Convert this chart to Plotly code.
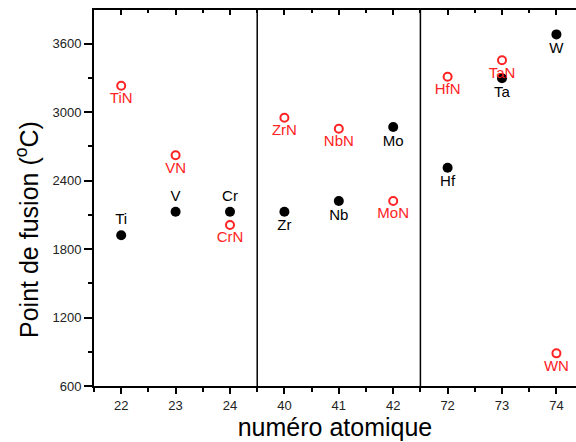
import plotly.graph_objects as go

categories = ["22", "23", "24", "40", "41", "42", "72", "73", "74"]
metals = ["Ti", "V", "Cr", "Zr", "Nb", "Mo", "Hf", "Ta", "W"]
metal_mp = [1921, 2128, 2128, 2128, 2221, 2870, 2513, 3297, 3682]
metal_pos = ["top center", "top center", "top center", "bottom center", "bottom center",
             "bottom center", "bottom center", "bottom center", "bottom center"]
nitrides = ["TiN", "VN", "CrN", "ZrN", "NbN", "MoN", "HfN", "TaN", "WN"]
nitride_mp = [3232, 2622, 2011, 2952, 2855, 2221, 3311, 3455, 886]
nitride_pos = ["bottom center"] * 9
y_ticks = [600, 1200, 1800, 2400, 3000, 3600]
dividers = [2.5, 5.5]

idx = list(range(len(categories)))
RED = "rgb(255,35,35)"
FONT = "Liberation Sans, Arial, sans-serif"

fig = go.Figure()
fig.add_trace(go.Scatter(
    x=idx, y=metal_mp, mode="markers+text", text=metals, textposition=metal_pos,
    marker=dict(color="black", size=10, symbol="circle"),
    textfont=dict(color="black", size=15, family=FONT), showlegend=False, cliponaxis=False))
fig.add_trace(go.Scatter(
    x=idx, y=nitride_mp, mode="markers+text", text=nitrides, textposition=nitride_pos,
    marker=dict(color=RED, size=8, symbol="circle-open", line=dict(width=2, color=RED)),
    textfont=dict(color=RED, size=15, family=FONT), showlegend=False, cliponaxis=False))
# invisible trace to anchor the top mirror axis
fig.add_trace(go.Scatter(x=idx, y=metal_mp, xaxis="x2", mode="markers",
                         marker=dict(opacity=0), showlegend=False, hoverinfo="skip"))

for d in dividers:
    fig.add_shape(type="line", x0=d, x1=d, y0=0, y1=1, xref="x", yref="paper",
                  line=dict(color="black", width=1.5))

fig.add_annotation(text="Point de fusion (<sup>o</sup>C)", textangle=-90, showarrow=False,
                   xref="paper", yref="paper", x=0, y=0.415, xanchor="center", yanchor="middle",
                   xshift=-67, font=dict(size=25, color="black", family=FONT))

xr = [-0.5, 8.36]
fig.update_layout(
    width=576, height=442, margin=dict(l=94, r=0, t=10, b=56),
    plot_bgcolor="white", paper_bgcolor="white",
    font=dict(family=FONT, color="#222"),
    xaxis=dict(range=xr, tickvals=idx, ticktext=categories, showgrid=False, zeroline=False,
               showline=True, linecolor="black", linewidth=2, ticks="outside", ticklen=6,
               tickwidth=1.5, tickcolor="black", tickfont=dict(size=13, color="#222"),
               minor=dict(tick0=-0.5, dtick=1, ticks="outside", ticklen=4, tickwidth=1.5,
                          tickcolor="black"),
               title=dict(text="numéro atomique", font=dict(size=25, color="black"), standoff=4)),
    xaxis2=dict(range=xr, overlaying="x", side="top", tickvals=idx, showticklabels=False,
                showgrid=False, zeroline=False, showline=True, linecolor="black", linewidth=2,
                ticks="inside", ticklen=5, tickwidth=1.5, tickcolor="black",
                minor=dict(tick0=-0.5, dtick=1, ticks="inside", ticklen=3, tickwidth=1.5,
                           tickcolor="black")),
    yaxis=dict(range=[600, 3896], tickvals=y_ticks, showgrid=False, zeroline=False,
               showline=True, linecolor="black", linewidth=2, ticks="outside", ticklen=8,
               tickwidth=1.5, tickcolor="black", tickfont=dict(size=13, color="#222"),
               minor=dict(tick0=600, dtick=300, ticks="outside", ticklen=4, tickwidth=1.5,
                          tickcolor="black")),
)
fig.write_html("out.html")
